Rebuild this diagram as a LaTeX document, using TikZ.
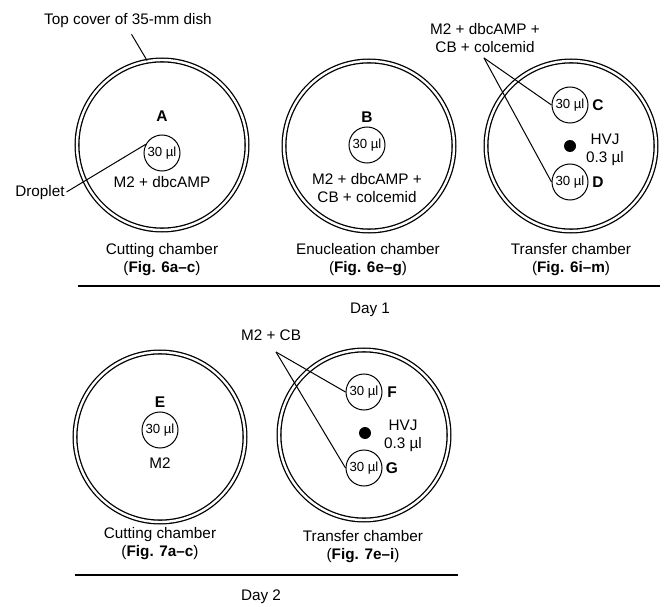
\documentclass[tikz,border=0pt]{standalone}
\usepackage{fontspec}
\setmainfont{Liberation Sans}
\begin{document}
\begin{tikzpicture}[x=1pt,y=-1pt,
  dish/.style={circle, draw, line width=1.3pt, double distance=2.4pt, minimum size=170pt, inner sep=0pt},
  drop/.style={circle, draw, line width=1pt, minimum size=36pt, inner sep=0pt, font=\fontsize{13.2}{14}\selectfont},
  lbl/.style={font=\fontsize{15.3}{18}\selectfont, align=center, inner sep=0pt},
  letter/.style={font=\bfseries\fontsize{15.5}{18}\selectfont, inner sep=0pt},
  hvj/.style={circle, fill, minimum size=12pt, inner sep=0pt},
  dayline/.style={line width=2.8pt},
  conn/.style={line width=1pt}]
\useasboundingbox (0,0) rectangle (665,607);

% ---------- Day 1 ----------
% Dish A
\node[dish] (dA) at (162,145) {};
\node[letter] (lA) at (162,116) {A};
\node[drop] (drA) at (162,153) {30 µl};
\node[lbl] (mA) at (162,182) {M2 + dbcAMP};
\node[lbl] (capA) at (162,260) {Cutting chamber\\(\textbf{Fig. 6a–c})};
\node[lbl] (tc) at (128,21) {Top cover of 35-mm dish};
\node[lbl] (dl) at (40,193) {Droplet};
\draw[conn, shorten <=7pt] (tc.south) -- (dA.100);
\draw[conn, shorten <=2pt] (dl.east) -- (drA.152);

% Dish B
\node[dish] (dB) at (369,146) {};
\node[letter] (lB) at (367,117) {B};
\node[drop] (drB) at (367,145) {30 µl};
\node[lbl] (mB) at (367,188) {M2 + dbcAMP +\\CB + colcemid};
\node[lbl] (capB) at (368,260) {Enucleation chamber\\(\textbf{Fig. 6e–g})};

% Dish C/D
\node[dish] (dC) at (571,146) {};
\node[drop] (drC) at (570,105) {30 µl};
\node[letter] (lC) at (598,105) {C};
\node[drop] (drD) at (570,182) {30 µl};
\node[letter] (lD) at (598,182) {D};
\node[hvj] (hC) at (570,146) {};
\node[lbl] (hvC) at (605,150) {HVJ\\0.3 µl};
\node[lbl] (mC) at (485,38) {M2 + dbcAMP +\\CB + colcemid};
\coordinate (apC) at (484,58);
\draw[conn] (apC) -- (drC.west);
\draw[conn] (apC) -- (drD.west);
\node[lbl] (capC) at (571,260) {Transfer chamber\\(\textbf{Fig. 6i–m})};

\coordinate (d1a) at (78,286);
\coordinate (d1b) at (660,286);
\draw[dayline] (d1a) -- (d1b);
\node[lbl] (day1) at (370,310) {Day 1};

% ---------- Day 2 ----------
% Dish E
\node[dish] (dE) at (160,437) {};
\node[letter] (lE) at (160,402) {E};
\node[drop] (drE) at (160,430) {30 µl};
\node[lbl] (mE) at (160,463) {M2};
\node[lbl] (capE) at (160,544) {Cutting chamber\\(\textbf{Fig. 7a–c})};

% Dish F/G
\node[dish] (dF) at (364,435) {};
\node[drop] (drF) at (364,392) {30 µl};
\node[letter] (lF) at (392,392) {F};
\node[drop] (drG) at (364,468) {30 µl};
\node[letter] (lG) at (392,468) {G};
\node[hvj] (hF) at (365,433) {};
\node[lbl] (hvF) at (403,436) {HVJ\\0.3 µl};
\node[lbl] (mF) at (271,335) {M2 + CB};
\coordinate (apF) at (276,352);
\draw[conn] (apF) -- (drF.west);
\draw[conn] (apF) -- (drG.west);
\node[lbl] (capF) at (363,547) {Transfer chamber\\(\textbf{Fig. 7e–i})};

\coordinate (d2a) at (75,575);
\coordinate (d2b) at (458,575);
\draw[dayline] (d2a) -- (d2b);
\node[lbl] (day2) at (261,597) {Day 2};
\end{tikzpicture}
\end{document}
